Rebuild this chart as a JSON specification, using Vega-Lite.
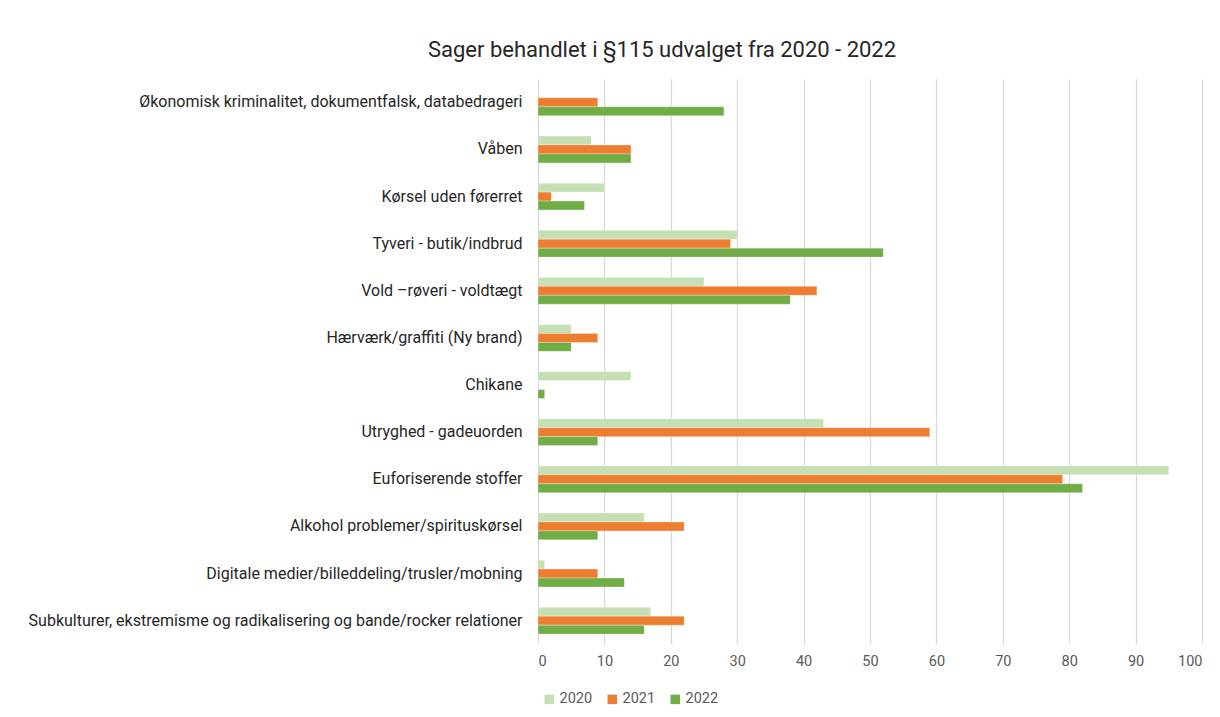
{
  "$schema": "https://vega.github.io/schema/vega-lite/v6.json",
  "width": 664,
  "height": 565,
  "autosize": {"type": "none"},
  "padding": {"left": 538, "top": 79, "right": 18, "bottom": 73},
  "background": "white",
  "title": {
    "text": "Sager behandlet i §115 udvalget fra 2020 - 2022",
    "font": "Roboto",
    "fontSize": 22,
    "fontWeight": "normal",
    "color": "#262626",
    "anchor": "middle",
    "dx": -208,
    "offset": 17
  },
  "data": {
    "values": [
      {"kategori": "Økonomisk kriminalitet, dokumentfalsk, databedrageri", "år": "2020", "antal": 0},
      {"kategori": "Økonomisk kriminalitet, dokumentfalsk, databedrageri", "år": "2021", "antal": 9},
      {"kategori": "Økonomisk kriminalitet, dokumentfalsk, databedrageri", "år": "2022", "antal": 28},
      {"kategori": "Våben", "år": "2020", "antal": 8},
      {"kategori": "Våben", "år": "2021", "antal": 14},
      {"kategori": "Våben", "år": "2022", "antal": 14},
      {"kategori": "Kørsel uden førerret", "år": "2020", "antal": 10},
      {"kategori": "Kørsel uden førerret", "år": "2021", "antal": 2},
      {"kategori": "Kørsel uden førerret", "år": "2022", "antal": 7},
      {"kategori": "Tyveri - butik/indbrud", "år": "2020", "antal": 30},
      {"kategori": "Tyveri - butik/indbrud", "år": "2021", "antal": 29},
      {"kategori": "Tyveri - butik/indbrud", "år": "2022", "antal": 52},
      {"kategori": "Vold –røveri - voldtægt", "år": "2020", "antal": 25},
      {"kategori": "Vold –røveri - voldtægt", "år": "2021", "antal": 42},
      {"kategori": "Vold –røveri - voldtægt", "år": "2022", "antal": 38},
      {"kategori": "Hærværk/graffiti (Ny brand)", "år": "2020", "antal": 5},
      {"kategori": "Hærværk/graffiti (Ny brand)", "år": "2021", "antal": 9},
      {"kategori": "Hærværk/graffiti (Ny brand)", "år": "2022", "antal": 5},
      {"kategori": "Chikane", "år": "2020", "antal": 14},
      {"kategori": "Chikane", "år": "2021", "antal": 0},
      {"kategori": "Chikane", "år": "2022", "antal": 1},
      {"kategori": "Utryghed - gadeuorden", "år": "2020", "antal": 43},
      {"kategori": "Utryghed - gadeuorden", "år": "2021", "antal": 59},
      {"kategori": "Utryghed - gadeuorden", "år": "2022", "antal": 9},
      {"kategori": "Euforiserende stoffer", "år": "2020", "antal": 95},
      {"kategori": "Euforiserende stoffer", "år": "2021", "antal": 79},
      {"kategori": "Euforiserende stoffer", "år": "2022", "antal": 82},
      {"kategori": "Alkohol problemer/spirituskørsel", "år": "2020", "antal": 16},
      {"kategori": "Alkohol problemer/spirituskørsel", "år": "2021", "antal": 22},
      {"kategori": "Alkohol problemer/spirituskørsel", "år": "2022", "antal": 9},
      {"kategori": "Digitale medier/billeddeling/trusler/mobning", "år": "2020", "antal": 1},
      {"kategori": "Digitale medier/billeddeling/trusler/mobning", "år": "2021", "antal": 9},
      {"kategori": "Digitale medier/billeddeling/trusler/mobning", "år": "2022", "antal": 13},
      {"kategori": "Subkulturer, ekstremisme og radikalisering og bande/rocker relationer", "år": "2020", "antal": 17},
      {"kategori": "Subkulturer, ekstremisme og radikalisering og bande/rocker relationer", "år": "2021", "antal": 22},
      {"kategori": "Subkulturer, ekstremisme og radikalisering og bande/rocker relationer", "år": "2022", "antal": 16}
    ]
  },
  "mark": {"type": "bar", "stroke": "white", "strokeWidth": 0.5, "strokeOpacity": 0.6},
  "encoding": {
    "y": {
      "field": "kategori",
      "type": "nominal",
      "sort": null,
      "scale": {"paddingInner": 0.43, "paddingOuter": 0.21},
      "axis": {
        "title": null,
        "domain": false,
        "ticks": false,
        "labelFont": "Roboto",
        "labelFontSize": 16,
        "labelColor": "#262626",
        "labelPadding": 16,
        "labelLimit": 600
      }
    },
    "yOffset": {
      "field": "år",
      "type": "nominal",
      "scale": {"paddingInner": 0, "paddingOuter": 0}
    },
    "x": {
      "field": "antal",
      "type": "quantitative",
      "scale": {"domain": [0, 100], "nice": false},
      "axis": {
        "title": null,
        "values": [0, 10, 20, 30, 40, 50, 60, 70, 80, 90, 100],
        "domain": false,
        "ticks": false,
        "grid": true,
        "gridColor": "#D9D9D9",
        "gridWidth": 1.3,
        "labelFont": "Roboto",
        "labelFontSize": 14.5,
        "labelColor": "#595959",
        "labelPadding": 10
      }
    },
    "color": {
      "field": "år",
      "type": "nominal",
      "scale": {"domain": ["2020", "2021", "2022"], "range": ["#C5E0B4", "#ED7D31", "#70AD47"]},
      "legend": {
        "title": null,
        "orient": "none",
        "direction": "horizontal",
        "legendX": 4,
        "legendY": 613,
        "symbolType": "square",
        "symbolSize": 90,
        "symbolStrokeWidth": 0,
        "labelFont": "Roboto",
        "labelFontSize": 14.5,
        "labelColor": "#595959",
        "labelOffset": 3,
        "columnPadding": 12
      }
    }
  },
  "config": {
    "view": {"stroke": null}
  }
}
